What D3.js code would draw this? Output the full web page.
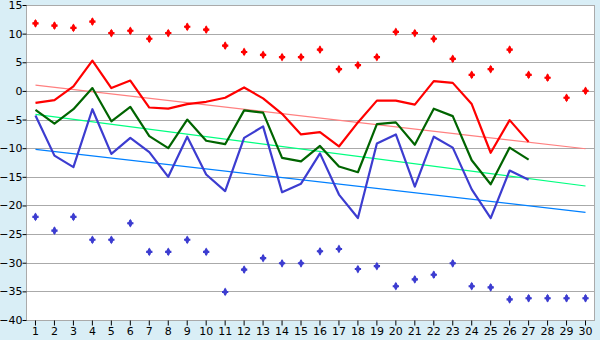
<!DOCTYPE html>
<html>
<head>
<meta charset="utf-8">
<script src="https://cdn.jsdelivr.net/npm/d3@7"></script>
<style>
html,body{margin:0;padding:0;background:#d9eef6;}
svg{display:block;}
text{font-family:"DejaVu Sans",sans-serif;font-size:11px;fill:#000;}
</style>
</head>
<body>
<svg id="chart" width="600" height="340"></svg>
<script>
const days = d3.range(1, 31);
const yTicks = [-40, -35, -30, -25, -20, -15, -10, -5, 0, 5, 10, 15];

const maxPoints = [11.8, 11.4, 11.0, 12.1, 10.1, 10.5, 9.1, 10.1, 11.2, 10.7,
  7.9, 6.8, 6.3, 5.9, 5.9, 7.2, 3.8, 4.5, 5.9, 10.3,
  10.1, 9.1, 5.6, 2.8, 3.8, 7.2, 2.8, 2.3, -1.2, 0.0];
const minPoints = [-22.0, -24.4, -22.0, -26.0, -26.0, -23.1, -28.1, -28.1, -26.0, -28.1,
  -35.1, -31.2, -29.2, -30.1, -30.1, -28.0, -27.6, -31.1, -30.6, -34.1,
  -32.9, -32.1, -30.1, -34.1, -34.3, -36.4, -36.2, -36.2, -36.2, -36.2];
const highLine = [-2.1, -1.6, 0.8, 5.3, 0.5, 1.8, -2.9, -3.1, -2.3, -1.9,
  -1.2, 0.6, -1.3, -4.0, -7.6, -7.2, -9.7, -5.5, -1.7, -1.7,
  -2.4, 1.7, 1.4, -2.3, -10.8, -5.1, -8.9];
const meanLine = [-3.3, -5.7, -3.2, 0.5, -5.3, -2.8, -7.9, -10.0, -5.0, -8.7,
  -9.3, -3.4, -3.8, -11.7, -12.3, -9.6, -13.2, -14.2, -5.8, -5.5,
  -9.4, -3.1, -4.4, -12.1, -16.3, -9.9, -12.0];
const lowLine = [-4.3, -11.3, -13.3, -3.2, -11.0, -8.2, -10.7, -15.0, -8.0, -14.6,
  -17.5, -8.2, -6.2, -17.7, -16.2, -10.9, -18.1, -22.2, -9.2, -7.6,
  -16.7, -8.0, -9.9, -17.2, -22.2, -13.9, -15.5];
const highTrend = [1.0, -10.1];
const meanTrend = [-4.1, -16.6];
const lowTrend = [-10.2, -21.2];

const W = 600, H = 340;
const m = {left: 26, top: 5, right: 5, bottom: 20};
const svg = d3.select("#chart");

const x = d3.scaleBand().domain(days).range([m.left, W - m.right]).padding(0);
const xc = d => x(d) + x.bandwidth() / 2;
const y = d3.scaleLinear().domain([-40, 15]).range([H - m.bottom, m.top]);

// plot background
svg.append("rect")
  .attr("x", m.left).attr("y", m.top)
  .attr("width", W - m.right - m.left).attr("height", H - m.bottom - m.top)
  .attr("fill", "#fff");

// gridlines
svg.append("g").selectAll("line").data(yTicks).join("line")
  .attr("x1", m.left).attr("x2", W - m.right)
  .attr("y1", d => Math.round(y(d)) + 0.5).attr("y2", d => Math.round(y(d)) + 0.5)
  .attr("stroke", "#aaaaaa").attr("stroke-width", 1);

// border
svg.append("rect")
  .attr("x", m.left + 0.5).attr("y", m.top + 0.5)
  .attr("width", W - m.right - m.left - 1).attr("height", H - m.bottom - m.top)
  .attr("fill", "none").attr("stroke", "#aaaaaa");

// axes
const yAxis = d3.axisLeft(y).tickValues(yTicks).tickSize(4).tickPadding(0).tickFormat(d3.format("d"));
const gy = svg.append("g").attr("transform", `translate(${m.left + 0.5},0)`).call(yAxis);
gy.select(".domain").remove();
gy.selectAll("line").attr("stroke", "#000");
gy.selectAll("text").attr("fill", "#000").style("font-size", "11px").style("font-family", "DejaVu Sans");

const xAxis = d3.axisBottom(x).tickSize(5).tickPadding(2);
const gx = svg.append("g").attr("transform", `translate(0,${Math.round(y(-40)) + 0.5})`).call(xAxis);
gx.select(".domain").remove();
gx.selectAll("line").attr("stroke", "#000");
gx.selectAll("text").attr("fill", "#000").style("font-size", "11px").style("font-family", "DejaVu Sans");

// trend lines
const trends = [
  {v: highTrend, c: "#ff8080"},
  {v: meanTrend, c: "#00ff80"},
  {v: lowTrend, c: "#0080ff"}
];
svg.append("g").selectAll("line").data(trends).join("line")
  .attr("x1", xc(1)).attr("x2", xc(30))
  .attr("y1", d => y(d.v[0])).attr("y2", d => y(d.v[1]))
  .attr("stroke", d => d.c).attr("stroke-width", 1.2);

// series lines
const line = d3.line().x((d, i) => xc(days[i])).y(d => y(d));
const series = [
  {v: highLine, c: "#ff0000"},
  {v: meanLine, c: "#006400"},
  {v: lowLine, c: "#3c3cd0"}
];
svg.append("g").selectAll("path").data(series).join("path")
  .attr("d", d => line(d.v))
  .attr("fill", "none").attr("stroke", d => d.c).attr("stroke-width", 2.2)
  .attr("stroke-linejoin", "round");

// point markers
const sym = d3.symbol().type(d3.symbolCross).size(22);
const sym2 = d3.symbol().type(d3.symbolDiamond).size(22);
function markers(vals, color) {
  const g = svg.append("g");
  vals.forEach((v, i) => {
    const tx = `translate(${xc(days[i])},${y(v)})`;
    g.append("path").attr("d", sym()).attr("transform", tx).attr("fill", color);
    g.append("path").attr("d", sym2()).attr("transform", tx).attr("fill", color);
  });
}
markers(maxPoints, "#ff0000");
markers(minPoints, "#3c3cd0");
</script>
</body>
</html>
